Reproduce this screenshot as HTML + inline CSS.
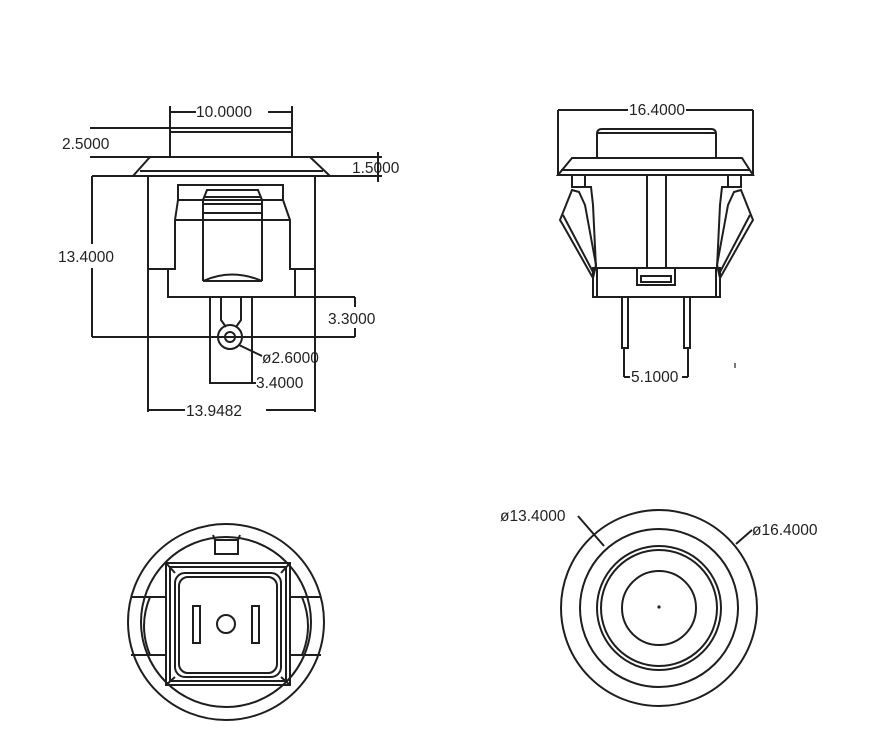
<!DOCTYPE html>
<html><head><meta charset="utf-8"><style>
html,body{margin:0;padding:0;background:#fff;}
svg{display:block}
text{font-family:"Liberation Sans",sans-serif;font-size:15.5px;fill:#222;}
</style></head><body>
<svg width="891" height="752" viewBox="0 0 891 752" xmlns="http://www.w3.org/2000/svg">
<g fill="none" stroke="#1e1e1e" stroke-width="2">
<!-- TOP LEFT VIEW -->
<rect x="170" y="128" width="122" height="29"/>
<line x1="170" y1="132" x2="292" y2="132"/>
<polygon points="150,157 310,157 330,176 133,176"/>
<line x1="140" y1="171" x2="323" y2="171"/>
<line x1="148" y1="176" x2="148" y2="412"/>
<line x1="315" y1="176" x2="315" y2="412"/>
<rect x="178" y="185" width="105" height="15"/>
<polyline points="178,200 175,220 175,269 168,269 168,297 295,297 295,269 290,269 290,220 283,200"/>
<line x1="175" y1="220" x2="290" y2="220"/>
<line x1="148" y1="269" x2="175" y2="269"/>
<line x1="290" y1="269" x2="315" y2="269"/>
<polyline points="203,281 203,200 207,190 258,190 262,200 262,281"/>
<line x1="205" y1="197" x2="260" y2="197"/>
<line x1="204" y1="204" x2="261" y2="204"/>
<line x1="203" y1="213" x2="262" y2="213"/>
<path d="M203 281 Q232 268 262 281"/>
<line x1="203" y1="281" x2="262" y2="281"/>
<polyline points="210,297 210,383 252,383 252,297"/>
<polyline points="221,297 221,320 226,327"/>
<polyline points="241,297 241,320 236,327"/>
<circle cx="230" cy="337" r="12"/>
<circle cx="230" cy="337" r="5"/>
<line x1="170" y1="128" x2="170" y2="106"/>
<line x1="292" y1="128" x2="292" y2="106"/>
<line x1="170" y1="112" x2="196" y2="112"/>
<line x1="268" y1="112" x2="292" y2="112"/>
<line x1="90" y1="128" x2="170" y2="128"/>
<line x1="90" y1="157" x2="150" y2="157"/>
<line x1="310" y1="157" x2="382" y2="157"/>
<line x1="330" y1="176" x2="382" y2="176"/>
<line x1="378" y1="152" x2="378" y2="182"/>
<line x1="92" y1="176" x2="133" y2="176"/>
<line x1="92" y1="176" x2="92" y2="244"/>
<line x1="92" y1="268" x2="92" y2="337"/>
<line x1="92" y1="337" x2="355" y2="337"/>
<line x1="295" y1="297" x2="355" y2="297"/>
<line x1="355" y1="297" x2="355" y2="307"/>
<line x1="355" y1="328" x2="355" y2="337"/>
<line x1="239" y1="345" x2="262" y2="356"/>
<line x1="210" y1="383" x2="256" y2="383"/>
<line x1="148" y1="410" x2="185" y2="410"/>
<line x1="266" y1="410" x2="315" y2="410"/>
<!-- TOP RIGHT VIEW -->
<line x1="558" y1="110" x2="628" y2="110"/>
<line x1="686" y1="110" x2="753" y2="110"/>
<line x1="558" y1="110" x2="558" y2="175"/>
<line x1="753" y1="110" x2="753" y2="175"/>
<path d="M597 157 L597 134 Q597 129 602 129 L711 129 Q716 129 716 134 L716 157"/>
<line x1="597" y1="133" x2="716" y2="133"/>
<polygon points="572,158 742,158 753,175 558,175"/>
<line x1="561" y1="170" x2="750" y2="170"/>
<rect x="572" y="175" width="13" height="12"/>
<rect x="728" y="175" width="13" height="12"/>
<polyline points="585,187 591,187 593,205 596,268"/>
<polyline points="728,187 722,187 720,205 717,268"/>
<rect x="593" y="268" width="127" height="29"/>
<line x1="597" y1="268" x2="597" y2="297"/>
<line x1="716" y1="268" x2="716" y2="297"/>
<line x1="647" y1="175" x2="647" y2="268"/>
<line x1="666" y1="175" x2="666" y2="268"/>
<rect x="637" y="268" width="38" height="17"/>
<rect x="641" y="276" width="30" height="6"/>
<polygon points="572,190 579,192 585,205 596,265 593,278 563,225 560,220"/>
<line x1="563" y1="215" x2="593" y2="272"/>
<polygon points="741,190 734,192 728,205 717,265 720,278 750,225 753,220"/>
<line x1="750" y1="215" x2="720" y2="272"/>
<rect x="622" y="297" width="6" height="51"/>
<rect x="684" y="297" width="6" height="51"/>
<line x1="624" y1="348" x2="624" y2="377"/>
<line x1="688" y1="348" x2="688" y2="377"/>
<line x1="624" y1="377" x2="630" y2="377"/>
<line x1="682" y1="377" x2="688" y2="377"/>
<line x1="735" y1="363" x2="735" y2="368" stroke-width="1.2"/>
<!-- BOTTOM LEFT -->
<circle cx="226" cy="622" r="98"/>
<circle cx="226" cy="622" r="85"/>
<polyline points="213,535 215,540 238,540 240,535"/>
<rect x="215" y="540" width="23" height="14"/>
<rect x="166" y="563" width="124" height="122"/>
<rect x="170" y="567" width="116" height="114"/>
<rect x="175" y="573" width="106" height="104" rx="10"/>
<rect x="179" y="577" width="98" height="96" rx="9"/>
<line x1="166" y1="563" x2="175" y2="573"/>
<line x1="290" y1="563" x2="281" y2="573"/>
<line x1="166" y1="685" x2="175" y2="677"/>
<line x1="290" y1="685" x2="281" y2="677"/>
<line x1="131" y1="597" x2="166" y2="597"/>
<line x1="131" y1="655" x2="166" y2="655"/>
<line x1="290" y1="597" x2="321" y2="597"/>
<line x1="290" y1="655" x2="321" y2="655"/>
<path d="M150 597 Q138 626 150 655"/>
<path d="M302 597 Q314 626 302 655"/>
<rect x="193" y="606" width="7" height="37"/>
<rect x="252" y="606" width="7" height="37"/>
<circle cx="226" cy="624" r="9"/>
<!-- BOTTOM RIGHT -->
<circle cx="659" cy="608" r="98"/>
<circle cx="659" cy="608" r="79"/>
<circle cx="659" cy="608" r="62"/>
<circle cx="659" cy="608" r="58"/>
<circle cx="659" cy="608" r="37"/>
<line x1="578" y1="516" x2="604" y2="546"/>
<line x1="752" y1="530" x2="736" y2="544"/>
</g>
<circle cx="659" cy="607" r="1.6" fill="#222"/>
<text x="196" y="117">10.0000</text>
<text x="62" y="149">2.5000</text>
<text x="352" y="173">1.5000</text>
<text x="58" y="262">13.4000</text>
<text x="328" y="324">3.3000</text>
<text x="262" y="363">ø2.6000</text>
<text x="256" y="388">3.4000</text>
<text x="186" y="416">13.9482</text>
<text x="629" y="115">16.4000</text>
<text x="631" y="382">5.1000</text>
<text x="500" y="521">ø13.4000</text>
<text x="752" y="535">ø16.4000</text>
</svg>
</body></html>
